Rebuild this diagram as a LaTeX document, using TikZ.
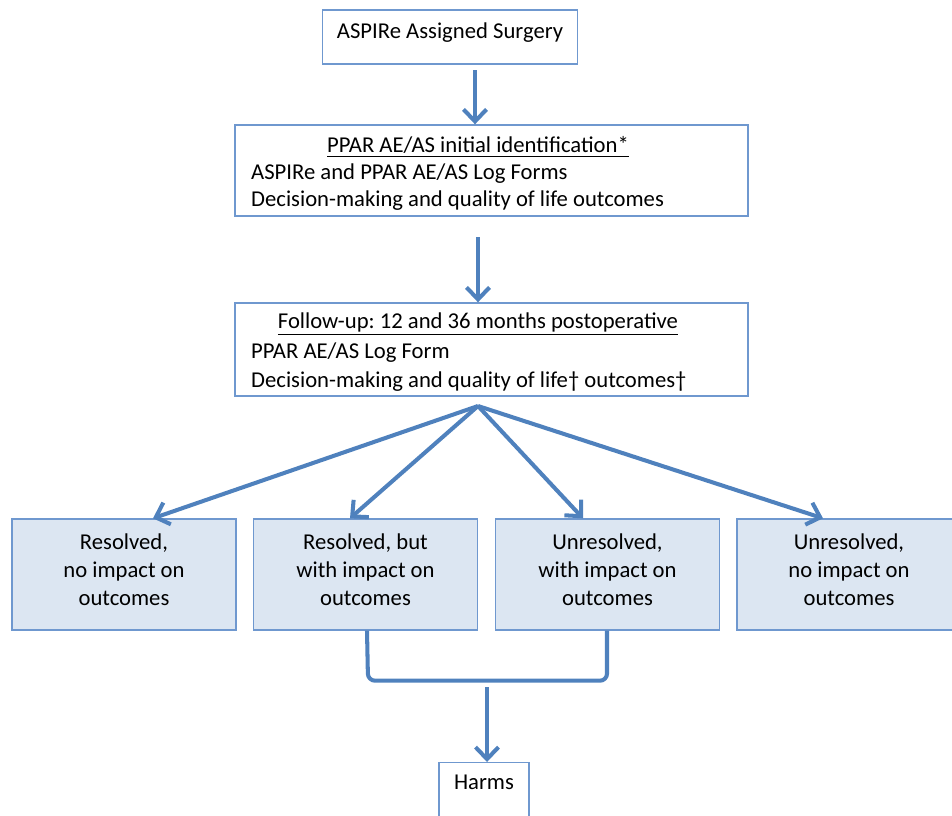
\documentclass[tikz,border=0pt]{standalone}
\usepackage{fontspec}
\setmainfont{Carlito}
\usepackage{tikz}
\usetikzlibrary{arrows.meta,positioning,calc}
\definecolor{flowblue}{HTML}{4F81BD}
\definecolor{flowedge}{HTML}{6F98CF}
\definecolor{flowfill}{HTML}{DCE6F2}
\frenchspacing

\begin{document}
\begin{tikzpicture}[x=0.02cm,y=-0.02cm,
  font=\fontsize{12.9}{16}\selectfont,
  box/.style={draw=flowedge, line width=0.8pt, inner sep=0pt},
  outbox/.style={box, fill=flowfill, minimum width=4.48cm, minimum height=2.22cm},
  flow/.style={draw=flowblue, line width=2.3pt, -{Straight Barb[length=2.4mm,width=4.6mm]}}]
\useasboundingbox (0,0) rectangle (952,815);
% stages
\node[box, minimum width=5.1cm, minimum height=1.08cm] (surgery) at (450,37) {};
\node (surgerylbl) at (450,33) {ASPIRe Assigned Surgery};
\node[box, minimum width=10.26cm, minimum height=1.82cm] (ident) at (491.5,170.5) {};
\node (identhead) at (478,147) {\underline{PPAR AE/AS initial identification*}};
\node[anchor=west] (identa) at (245,174) {ASPIRe and PPAR AE/AS Log Forms};
\node[anchor=west] (identb) at (245,201) {Decision-making and quality of life outcomes};
\node[box, minimum width=10.26cm, minimum height=1.86cm] (follow) at (491.5,349.5) {};
\node (followhead) at (478,324) {\underline{Follow-up: 12 and 36 months postoperative}};
\node[anchor=west] (followa) at (245,353) {PPAR AE/AS Log Form};
\node[anchor=west] (followb) at (245,382) {Decision-making and quality of life† outcomes†};
% outcome boxes
\foreach \n/\x in {resA/124, resB/365.5, resC/607.5, resD/849}
  \node[outbox] (\n) at (\x,574.5) {};
\foreach \n/\txt in {resA/{Resolved,\\no impact on\\outcomes},
   resB/{Resolved, but\\with impact on\\outcomes},
   resC/{Unresolved,\\with impact on\\outcomes},
   resD/{Unresolved,\\no impact on\\outcomes}}
  \node[align=center] (\n lbl) at ($(\n.center)+(0,-5)$) {\txt};
\node[box, anchor=north, minimum width=1.8cm, minimum height=1.6cm] (harms) at (484,762) {};
\node (harmslbl) at (484,782) {Harms};
% connectors
\coordinate (a1) at (475,70);
\coordinate (a2) at (478,237);
\coordinate (fan) at (478,406);
\coordinate (join) at (487,687);
\draw[flow] (a1) -- (a1 |- ident.north);
\draw[flow] (a2) -- (a2 |- follow.north);
\foreach \n/\dx in {resA/29, resB/-15.5, resC/-24.5, resD/-26}
  \draw[flow] (fan) -- ($(\n.north)+(\dx,0)$);
\draw[flowblue, line width=2.3pt, rounded corners=4pt] ($(resB.south)+(1.5,0)$) -- ++(1,50) -| ($(resC.south)+(-0.5,0)$);
\draw[flow] (join) -- (join |- harms.north);
\end{tikzpicture}
\end{document}
